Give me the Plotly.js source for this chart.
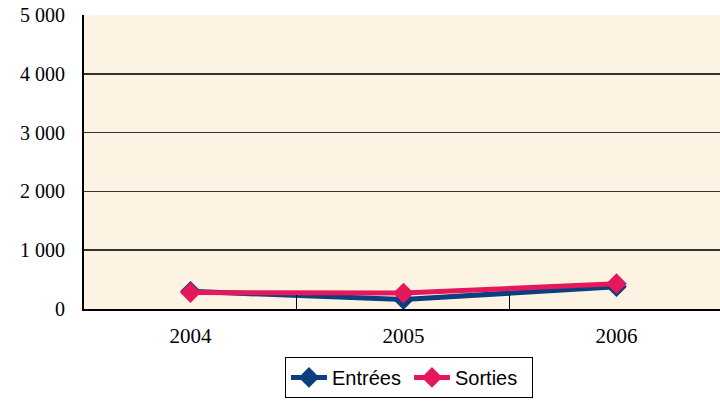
<!DOCTYPE html>
<html><head><meta charset="utf-8">
<script src="https://cdn.plot.ly/plotly-3.0.1.min.js"></script>
<style>html,body{margin:0;padding:0;overflow:hidden;background:#fff}</style>
</head><body>
<div id="chart" style="width:720px;height:405px"></div>
<script>
var years = ['2004', '2005', '2006'];
var entrees = [300, 160, 380];
var sorties = [280, 270, 430];
var yTickVals = [0, 1000, 2000, 3000, 4000, 5000];
var yTickText = ['0', '1 000', '2 000', '3 000', '4 000', '5 000'];

var serif = "'Liberation Serif', 'Times New Roman', serif";
var sans = "'Liberation Sans', Arial, sans-serif";

var traces = [
  {x: years, y: entrees, name: 'Entrées', type: 'scatter', mode: 'lines+markers',
   line: {color: '#0b3f80', width: 5}, marker: {symbol: 'diamond', size: 16, color: '#0b3f80'}},
  {x: years, y: sorties, name: 'Sorties', type: 'scatter', mode: 'lines+markers',
   line: {color: '#e4185a', width: 5}, marker: {symbol: 'diamond', size: 16, color: '#e4185a'}}
];
var layout = {
  width: 720, height: 405,
  margin: {l: 84, r: 0, t: 15, b: 96},
  paper_bgcolor: '#ffffff', plot_bgcolor: '#fdf3e2',
  showlegend: true,
  legend: {orientation: 'h', x: 0.316, xanchor: 'left', y: -0.163, yanchor: 'top',
    bordercolor: '#000', borderwidth: 1, bgcolor: '#fff',
    font: {family: sans, size: 20, color: '#000'},
    itemwidth: 36, entrywidth: 72, entrywidthmode: 'pixels'},
  xaxis: {type: 'category', range: [-0.5, 2.486], showgrid: false,
    showline: true, linecolor: '#000', linewidth: 2,
    ticks: 'inside', tickson: 'boundaries', ticklen: 14, tickcolor: '#000', tickwidth: 1,
    ticklabelstandoff: 7,
    tickfont: {family: serif, size: 21, color: '#000'}},
  yaxis: {range: [0, 5000], tickvals: yTickVals, ticktext: yTickText,
    showgrid: true, gridcolor: '#333', gridwidth: 1.5, zeroline: false,
    showline: true, linecolor: '#000', linewidth: 2, ticks: '',
    ticklabelstandoff: 13,
    tickfont: {family: serif, size: 20, color: '#000'}}
};
Plotly.newPlot('chart', traces, layout, {displayModeBar: false, staticPlot: true});
</script>
</body></html>
